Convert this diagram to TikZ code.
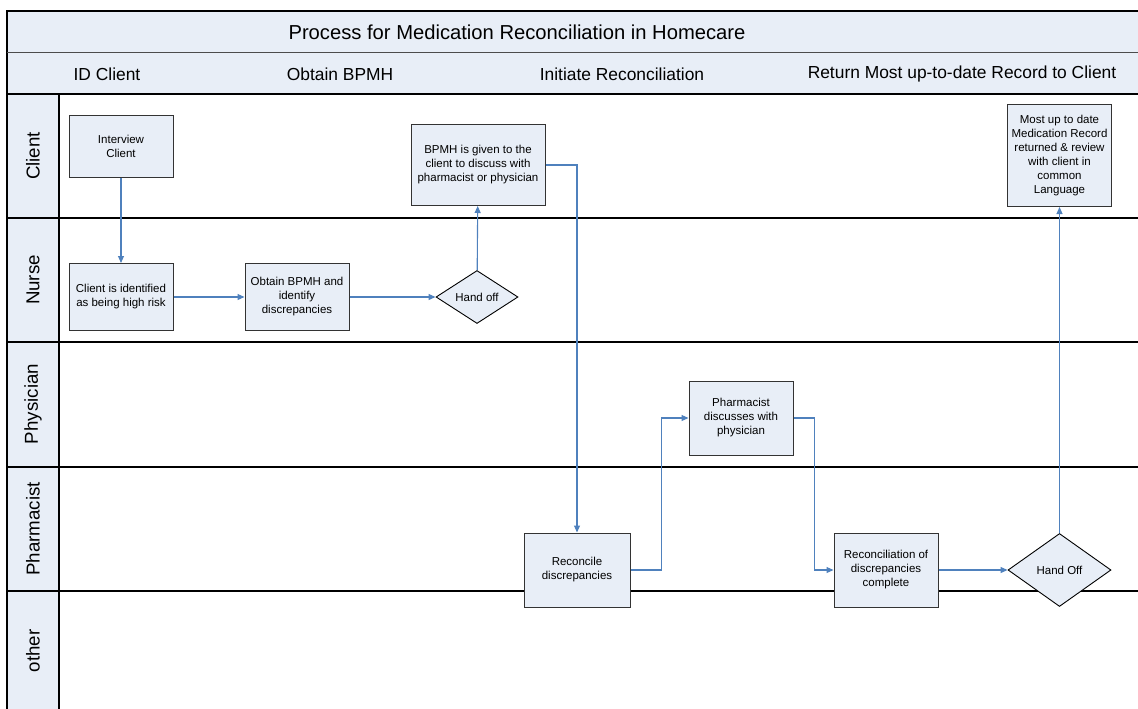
\documentclass[tikz,border=0pt]{standalone}
\usepackage{fontspec}
\setmainfont{Liberation Sans}
\usetikzlibrary{arrows.meta,shapes.geometric}
\definecolor{bandfill}{HTML}{E8EEF7}
\definecolor{flowblue}{HTML}{4F81BD}
\definecolor{boxline}{HTML}{333333}
\tikzset{
  lanerule/.style={draw=black, line width=1.3pt},
  titletext/.style={font=\fontsize{20.2}{24}\selectfont, inner sep=0pt},
  headtext/.style={font=\fontsize{17.4}{20}\selectfont, inner sep=0pt},
  lanetext/.style={font=\fontsize{18.7}{22}\selectfont, rotate=90, inner sep=0pt},
  procbox/.style={draw=boxline, fill=bandfill, line width=1pt, align=center,
    font=\fontsize{11.5}{14}\selectfont, inner sep=1pt},
  decision/.style={diamond, draw=black, fill=bandfill, line width=0.9pt, align=center,
    font=\fontsize{11.5}{14}\selectfont, inner sep=0pt},
  flow/.style={draw=flowblue, line width=1.1pt, -{Triangle[length=7pt,width=6pt]}}
}
\begin{document}
\begin{tikzpicture}[x=1pt,y=-1pt]
\useasboundingbox (0,0) rectangle (1138,709);
% bands
\fill[bandfill] (7,11) rectangle (1140,94);
\fill[bandfill] (7,94) rectangle (59,712);
% rules
\draw[lanerule] (7,712) -- (7,11) -- (1140,11);
\draw[draw=black!70, line width=1pt] (7,53) -- (1140,53);
\draw[lanerule] (7,94) -- (1140,94);
\draw[lanerule] (7,218) -- (1140,218);
\draw[lanerule] (7,342) -- (1140,342);
\draw[lanerule] (7,467) -- (1140,467);
\draw[lanerule] (7,591) -- (1140,591);
\draw[lanerule] (59,94) -- (59,712);
% title and phases
\node[titletext] (title) at (517,32) {Process for Medication Reconciliation in Homecare};
\node[headtext] (ph1) at (107,74) {ID Client};
\node[headtext] (ph2) at (340,74) {Obtain BPMH};
\node[headtext] (ph3) at (622,74) {Initiate Reconciliation};
\node[headtext] (ph4) at (962,74) {Return Most up-to-date Record to Client};
% lane labels
\node[lanetext] (l1) at (33,156) {Client};
\node[lanetext] (l2) at (33,280) {Nurse};
\node[lanetext] (l3) at (33,404) {Physician};
\node[lanetext] (l4) at (33,529) {Pharmacist};
\node[lanetext] (l5) at (33,651) {other};
% process nodes
\node[procbox, minimum width=104pt, minimum height=62pt] (interview) at (121,146) {Interview\\Client};
\node[procbox, minimum width=104pt, minimum height=67pt] (clientid) at (121,297) {Client is identified\\as being high risk};
\node[procbox, minimum width=104pt, minimum height=67pt] (obtain) at (297,297) {Obtain BPMH and\\identify\\discrepancies};
\node[decision, minimum width=82pt, minimum height=53pt] (hand1) at (477,297) {Hand off};
\node[procbox, minimum width=134pt, minimum height=81pt] (given) at (478,165) {BPMH is given to the\\client to discuss with\\pharmacist or physician};
\node[procbox, minimum width=104pt, minimum height=102pt] (mostup) at (1059.5,155.5) {Most up to date\\Medication Record\\returned \& review\\with client in\\common\\Language};
\node[procbox, minimum width=106pt, minimum height=74pt] (reconcile) at (577,570) {Reconcile\\discrepancies};
\node[procbox, minimum width=104pt, minimum height=74pt] (discuss) at (741,418) {Pharmacist\\discusses with\\physician};
\node[procbox, minimum width=104pt, minimum height=74pt] (complete) at (886,570) {Reconciliation of\\discrepancies\\complete};
\node[decision, minimum width=103pt, minimum height=73pt] (hand2) at (1059.5,570) {Hand Off};
% connectors
\draw[flow] (interview) -- (clientid);
\draw[flow] (clientid) -- (obtain);
\draw[flow] (obtain) -- (hand1);
\draw[flow] (hand1) -- (given);
\draw[flow] (given.east) -| (reconcile.north);
\draw[flow] (reconcile.east) -- ++(31,0) |- (discuss.west);
\draw[flow] (discuss.east) -- ++(21,0) |- (complete.west);
\draw[flow] (complete) -- (hand2);
\draw[flow] (hand2) -- (mostup);
\end{tikzpicture}
\end{document}
